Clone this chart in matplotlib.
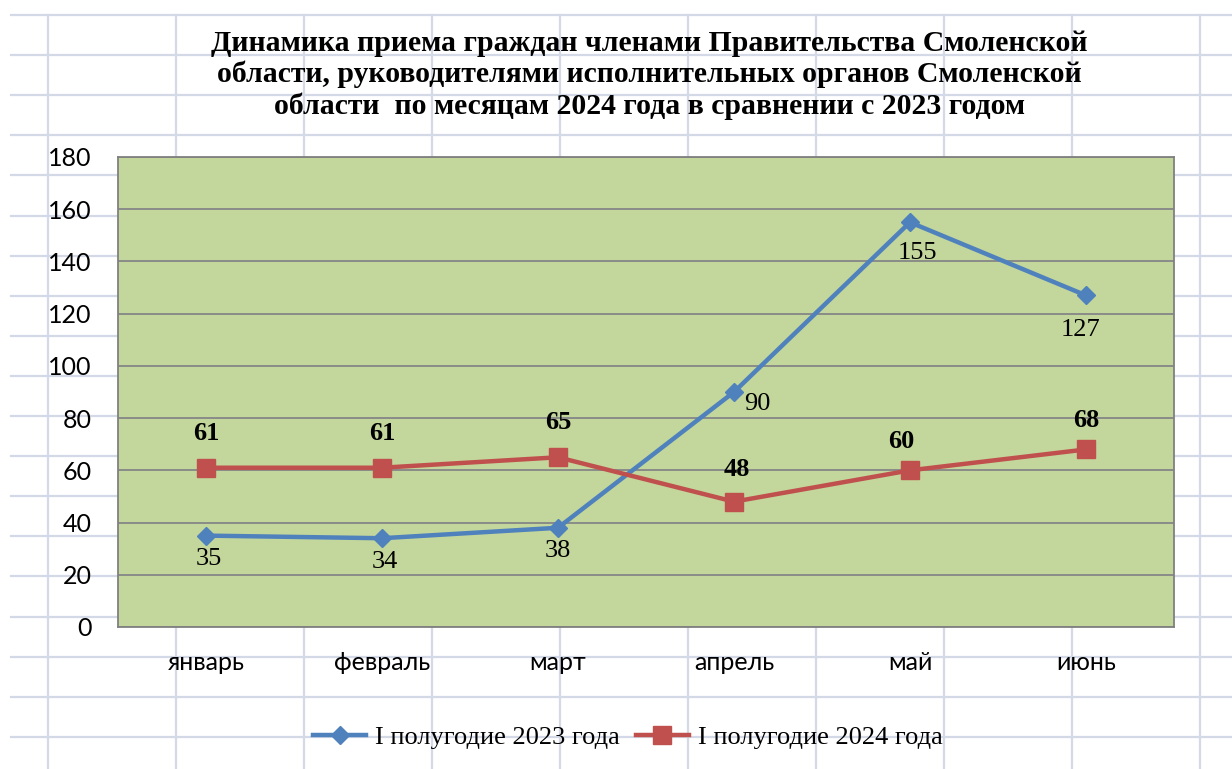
import numpy as np
import matplotlib
matplotlib.use("Agg")
import matplotlib.pyplot as plt
from matplotlib.lines import Line2D

months = ["январь", "февраль", "март", "апрель", "май", "июнь"]
h1_2023 = [35, 34, 38, 90, 155, 127]
h1_2024 = [61, 61, 65, 48, 60, 68]
labels = ["I полугодие 2023 года", "I полугодие 2024 года"]
title = ("Динамика приема граждан членами Правительства Смоленской\n"
         "области, руководителями исполнительных органов Смоленской\n"
         "области  по месяцам 2024 года в сравнении с 2023 годом")

# label offsets in points (where Excel placed them)
off_2023 = [(2, -17), (2, -17), (0, -17), (17, -9), (5, -22), (-4, -25)]
off_2024 = [(0, 25), (0, 25), (0, 25), (2, 23), (-6, 21), (0, 21)]

W, H = 1232, 769
fig = plt.figure(figsize=(W / 100, H / 100), dpi=100)
fig.patch.set_facecolor("white")

# spreadsheet cells behind the chart
grid_c = "#D3D9E6"
for y in np.arange(15, H, 40.1):
    fig.add_artist(Line2D([11 / W, 1], [1 - y / H] * 2, color=grid_c, lw=1.6, zorder=0))
for x in np.arange(48, W, 128):
    fig.add_artist(Line2D([x / W] * 2, [0, 1 - 15 / H], color=grid_c, lw=1.6, zorder=0))

ax = fig.add_axes([118 / W, 1 - 627 / H, 1056 / W, 470 / H])
ax.set_facecolor("#C3D69B")
x = np.arange(len(months))

ax.plot(x, h1_2023, color="#4F81BD", lw=3.2, marker="D", ms=9.5, label=labels[0], zorder=3)
ax.plot(x, h1_2024, color="#C0504D", lw=3.2, marker="s", ms=12.5, label=labels[1], zorder=3)

for xi, v, o in zip(x, h1_2023, off_2023):
    ax.annotate(str(v), (xi, v), xytext=o, textcoords="offset points", ha="center", va="center",
                family="Liberation Serif", fontsize=19, color="black")
for xi, v, o in zip(x, h1_2024, off_2024):
    ax.annotate(str(v), (xi, v), xytext=o, textcoords="offset points", ha="center", va="center",
                family="Liberation Serif", fontsize=19, fontweight="bold", color="black")

ax.set_xlim(-0.5, 5.5)
ax.set_ylim(0, 180)
ax.set_yticks(range(0, 181, 20))
ax.set_xticks(x)
ax.set_xticklabels(months)
ax.yaxis.grid(True, color="#868686", lw=1.3)
ax.set_axisbelow(True)
ax.tick_params(length=0)
ax.tick_params(axis="y", pad=19)
ax.tick_params(axis="x", pad=17)
for t in ax.get_xticklabels() + ax.get_yticklabels():
    t.set_family("Lato")
    t.set_fontsize(18)
for s in ax.spines.values():
    s.set_color("#808080")
    s.set_linewidth(1.3)

fig.text(649 / W, 1 - 75 / H, title, ha="center", va="center", family="Liberation Serif",
         fontweight="bold", fontsize=21.4, linespacing=1.2)

fig.legend(loc="center", bbox_to_anchor=(628 / W, 1 - 737 / H), ncol=2, frameon=False,
           prop={"family": "Liberation Serif", "size": 19}, handlelength=2,
           handletextpad=0.35, columnspacing=0.6)

fig.savefig("out.png", dpi=100)
